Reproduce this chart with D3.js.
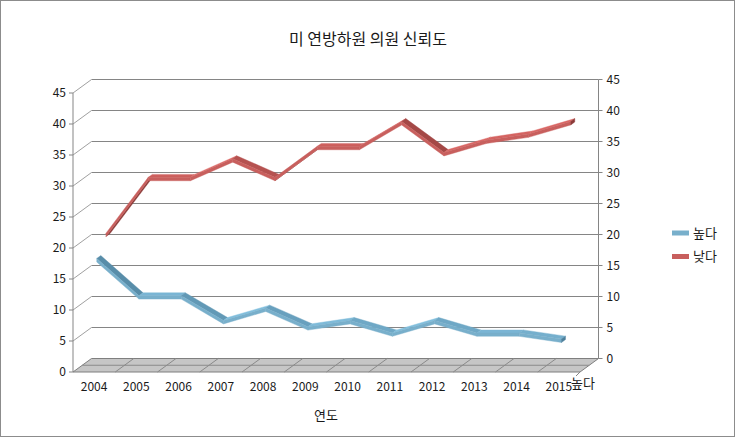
<!DOCTYPE html>
<html><head><meta charset="utf-8">
<script src="https://cdn.jsdelivr.net/npm/d3@7"></script>
<style>
body{margin:0;background:#fff}
text{font-family:"Noto Sans CJK KR","Noto Sans",sans-serif;fill:#1a1a1a}
</style>
</head><body>
<svg id="c" width="736" height="438"></svg>
<script>
const chartTitle = "미 연방하원 의원 신뢰도";
const xAxisTitle = "연도";
const years = ["2004","2005","2006","2007","2008","2009","2010","2011","2012","2013","2014","2015"];
const seriesNames = ["높다","낮다"];
const highValues = [18,12,12,8,10,7,8,6,8,6,6,5];
const lowValues = [21,30,30,33,30,35,35,39,34,36,37,39];
const yTicks = [0,5,10,15,20,25,30,35,40,45];
const seriesColors = ["#78AFCB","#C85F5D"];
const seriesDarkColors = ["#4C7F9B","#8C3A38"];

const svg = d3.select("#c");
const W = 736, H = 438;

svg.append("rect").attr("x",0.5).attr("y",0.5).attr("width",W-2).attr("height",H-2)
  .attr("fill","#fff").attr("stroke","#8c8c8c");

svg.append("text").attr("x",368).attr("y",45).attr("text-anchor","middle")
  .attr("font-size",16).text(chartTitle);

const x = d3.scaleBand().domain(years).range([73,580]);
const y = d3.scaleLinear().domain([0,45]).range([372,93]);
const DX = 18.5, DY = -13.5;
const P = (px,py,d) => [px + DX*d, py + DY*d];
const line = pts => "M" + pts.map(p => p[0].toFixed(2)+","+p[1].toFixed(2)).join("L");
const poly = pts => line(pts) + "Z";
const x0 = x.range()[0], x1 = x.range()[1];
const gridColor = "#858585";

// floor
svg.append("path").attr("d", poly([P(x0,y(0),0),P(x1,y(0),0),P(x1,y(0),1),P(x0,y(0),1)]))
  .attr("fill","#c6c6c6").attr("stroke","#7f7f7f");
svg.append("path").attr("d", line([P(x0,y(0),0.5),P(x1,y(0),0.5)])).attr("stroke","#8a8a8a").attr("fill","none");
years.forEach((yr,i) => {
  if (i === 0) return;
  const xb = x(yr);
  svg.append("path").attr("d", line([P(xb,y(0),0),P(xb,y(0),1)])).attr("stroke","#8a8a8a").attr("fill","none");
});

// back wall gridlines and left wall diagonals
yTicks.forEach(t => {
  if (t > 0) {
    svg.append("path").attr("d", line([P(x0,y(t),1),P(x1,y(t),1)])).attr("stroke",gridColor).attr("fill","none");
    svg.append("path").attr("d", line([P(x0,y(t),0),P(x0,y(t),1)])).attr("stroke","#a0a0a0").attr("fill","none");
  }
});

// left axis
svg.append("path").attr("d", line([[x0,y(0)],[x0,y(45)]])).attr("stroke",gridColor).attr("fill","none");
yTicks.forEach(t => {
  svg.append("path").attr("d", line([[x0-4,y(t)],[x0,y(t)]])).attr("stroke",gridColor);
  svg.append("text").attr("x",x0-7).attr("y",y(t)).attr("dy","0.35em").attr("text-anchor","end")
    .attr("font-size",12).text(t);
});

// right axis
svg.append("path").attr("d", line([P(x1,y(0),1),P(x1,y(45),1)])).attr("stroke",gridColor).attr("fill","none");
yTicks.forEach(t => {
  const p = P(x1,y(t),1);
  svg.append("path").attr("d", line([p,[p[0]+4,p[1]]])).attr("stroke",gridColor);
  svg.append("text").attr("x",p[0]+8).attr("y",p[1]).attr("dy","0.35em").attr("font-size",12).text(t);
});

// category labels
years.forEach(yr => {
  svg.append("text").attr("x",x(yr)+x.bandwidth()/2).attr("y",391).attr("text-anchor","middle")
    .attr("font-size",12).text(yr);
});
// depth axis label + tick
svg.append("path").attr("d", line([[x1,y(0)],[x1-4,y(0)+4]])).attr("stroke",gridColor);
svg.append("text").attr("x",x1-9).attr("y",388).attr("font-size",13).text(seriesNames[0]);

svg.append("text").attr("x",326).attr("y",420).attr("text-anchor","middle").attr("font-size",13).text(xAxisTitle);

// ribbons
const series = [
  {name: seriesNames[0], values: highValues, color: seriesColors[0], dark: seriesDarkColors[0], d1: 0.14},
  {name: seriesNames[1], values: lowValues, color: seriesColors[1], dark: seriesDarkColors[1], d1: 0.64}
];
const RW = 0.22, TH = 3.4;
const g = svg.append("g");
[series[1], series[0]].forEach(s => {
  const d1 = s.d1, d2 = s.d1 + RW;
  const light = d3.color(s.color).brighter(0.3).formatHex();
  const shade = d3.interpolateRgb(s.dark, light);
  const pts = s.values.map((v,i) => [x(years[i]) + x.bandwidth()/2, y(v)]);
  for (let i = 0; i < pts.length - 1; i++) {
    const [xa,ya] = pts[i], [xb,yb] = pts[i+1];
    const ex = xb - xa, ey = yb - ya;
    const cross = ex*DY - ey*DX;
    const len = Math.hypot(ex, ey);
    if (cross < 0) {
      const b = Math.max(0, Math.min(1, (-0.6*ey + 0.8*ex)/len));
      const c = shade(b);
      g.append("path").attr("d", poly([P(xa,ya,d1),P(xb,yb,d1),P(xb,yb,d2),P(xa,ya,d2)]))
        .attr("fill",c).attr("stroke",c).attr("stroke-width",0.4);
    } else {
      g.append("path").attr("d", poly([P(xa,ya+TH,d1),P(xb,yb+TH,d1),P(xb,yb+TH,d2),P(xa,ya+TH,d2)]))
        .attr("fill",s.dark).attr("stroke",s.dark).attr("stroke-width",0.4);
    }
    g.append("path").attr("d", poly([P(xa,ya,d1),P(xb,yb,d1),P(xb,yb+TH,d1),P(xa,ya+TH,d1)]))
      .attr("fill",s.color).attr("stroke",s.color).attr("stroke-width",0.4);
  }
  const [xe,ye] = pts[pts.length-1];
  g.append("path").attr("d", poly([P(xe,ye,d1),P(xe,ye,d2),P(xe,ye+TH,d2),P(xe,ye+TH,d1)]))
    .attr("fill",s.dark).attr("stroke",s.dark).attr("stroke-width",0.4);
});

// legend
series.forEach((s,i) => {
  const ly = 233 + i*23.5;
  svg.append("line").attr("x1",672).attr("x2",689).attr("y1",ly).attr("y2",ly)
    .attr("stroke",s.color).attr("stroke-width",5);
  svg.append("text").attr("x",693).attr("y",ly).attr("dy","0.35em").attr("font-size",13).text(s.name);
});
</script>
</body></html>
